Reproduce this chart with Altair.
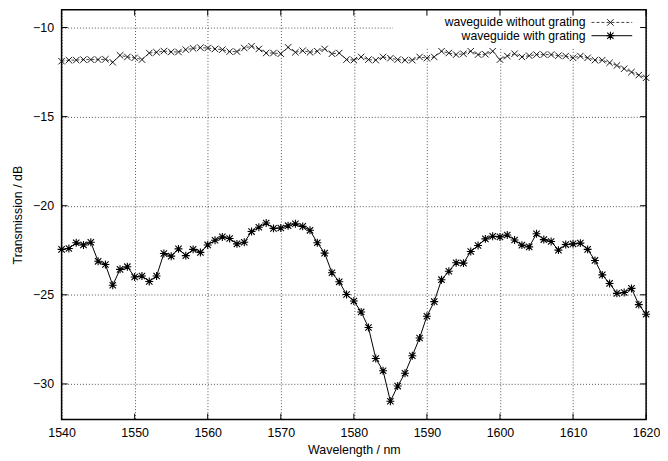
import altair as alt
import pandas as pd

wavelength = list(range(1540, 1621))

without_grating = [
    -11.89, -11.83, -11.83, -11.80, -11.80, -11.80, -11.78, -11.95, -11.56, -11.65,
    -11.70, -11.80, -11.43, -11.39, -11.32, -11.37, -11.37, -11.24, -11.17, -11.13,
    -11.15, -11.20, -11.24, -11.35, -11.35, -11.15, -11.05, -11.20, -11.43, -11.43,
    -11.47, -11.11, -11.39, -11.30, -11.39, -11.33, -11.20, -11.47, -11.43, -11.80,
    -11.83, -11.65, -11.80, -11.83, -11.65, -11.72, -11.80, -11.83, -11.83, -11.65,
    -11.72, -11.65, -11.33, -11.43, -11.52, -11.47, -11.33, -11.52, -11.50, -11.33,
    -11.80, -11.60, -11.47, -11.65, -11.58, -11.52, -11.52, -11.52, -11.58, -11.60,
    -11.70, -11.60, -11.70, -11.83, -11.83, -11.98, -12.13, -12.31, -12.50, -12.67,
    -12.82,
]

with_grating = [
    -22.45, -22.40, -22.08, -22.20, -22.05, -23.12, -23.30, -24.46, -23.57, -23.42,
    -24.00, -23.94, -24.25, -23.94, -22.68, -22.83, -22.42, -22.80, -22.45, -22.62,
    -22.20, -21.94, -21.75, -21.84, -22.14, -22.05, -21.45, -21.21, -20.97, -21.27,
    -21.25, -21.12, -21.01, -21.16, -21.38, -22.08, -22.66, -23.76, -24.27, -24.98,
    -25.35, -25.96, -26.83, -28.57, -29.26, -30.97, -30.12, -29.40, -28.42, -27.42,
    -26.20, -25.38, -24.15, -23.68, -23.20, -23.22, -22.57, -22.23, -21.86, -21.71,
    -21.75, -21.64, -21.92, -22.21, -22.31, -21.57, -21.90, -22.01, -22.49, -22.18,
    -22.14, -22.10, -22.45, -23.07, -23.88, -24.36, -24.92, -24.87, -24.64, -25.55,
    -26.09,
]

x_ticks = [1540, 1550, 1560, 1570, 1580, 1590, 1600, 1610, 1620]
y_ticks = [-30, -25, -20, -15, -10]
legend_labels = ["waveguide without grating", "waveguide with grating"]

W, H = 589, 413
FONT = "Liberation Sans"
X_PATH = "M-1,-1L1,1M-1,1L1,-1"
STAR_PATH = "M-0.8,-0.8L0.8,0.8M-0.8,0.8L0.8,-0.8M0,-1L0,1M-1,0L1,0"

df = pd.DataFrame({"wl": wavelength, "without": without_grating, "with": with_grating})
xt = pd.DataFrame({"wl": x_ticks})
yt = pd.DataFrame({"without": y_ticks})
one = pd.DataFrame({"k": [0]})

xs = alt.Scale(domain=[1540, 1620], nice=False, zero=False)
ys = alt.Scale(domain=[-32, -9], nice=False, zero=False)

xaxis = alt.Axis(values=x_ticks, title="Wavelength / nm", grid=True, gridDash=[1, 2],
                 gridColor="#555", gridWidth=1, ticks=False, domain=False,
                 labelFlush=False, labelOverlap=False,
                 labelPadding=7, labelFontSize=12.5, labelFont=FONT, labelColor="black",
                 titleFont=FONT, titleFontSize=12.5, titleFontWeight="normal",
                 titleColor="black", titleY=30, titleBaseline="middle", format="d")
yaxis = alt.Axis(values=y_ticks, title="Transmission / dB", grid=True, gridDash=[1, 2],
                 gridColor="#555", gridWidth=1, ticks=False, domain=False,
                 labelFlush=False, labelOverlap=False,
                 labelPadding=8, labelFontSize=12.5, labelFont=FONT, labelColor="black",
                 titleFont=FONT, titleFontSize=12.5, titleFontWeight="normal",
                 titleColor="black", titleX=-44, titleY=H / 2, titleBaseline="middle",
                 titleAngle=270)

X = alt.X("wl:Q", scale=xs, axis=xaxis)
Y_without = alt.Y("without:Q", scale=ys, axis=yaxis)
Y_with = alt.Y("with:Q", scale=ys, axis=yaxis)

base = alt.Chart(df)

legend_box = alt.Chart(one).mark_rect(fill="white", stroke=None).encode(
    x=alt.value(334), x2=alt.value(W), y=alt.value(0), y2=alt.value(38)
)

line_without = base.mark_line(color="#444", strokeWidth=1, strokeDash=[3, 2]).encode(
    x=X, y=Y_without
)
pts_without = base.mark_point(shape=X_PATH, filled=False, color="black", size=42,
                              strokeWidth=0.9, opacity=1).encode(x=X, y=Y_without)
line_with = base.mark_line(color="black", strokeWidth=1).encode(x=X, y=Y_with)
pts_with = base.mark_point(shape=STAR_PATH, filled=False, color="black", size=64,
                           strokeWidth=1.1, opacity=1).encode(x=X, y=Y_with)

tick_style = dict(color="black", strokeWidth=1)
xt_top = alt.Chart(xt).mark_rule(**tick_style).encode(
    x=X, y=alt.value(0), y2=alt.value(6))
xt_bot = alt.Chart(xt).mark_rule(**tick_style).encode(
    x=X, y=alt.value(H - 6), y2=alt.value(H))
yt_left = alt.Chart(yt).mark_rule(**tick_style).encode(
    y=Y_without, x=alt.value(0), x2=alt.value(6))
yt_right = alt.Chart(yt).mark_rule(**tick_style).encode(
    y=Y_without, x=alt.value(W - 6), x2=alt.value(W))

frame = alt.Chart(one).mark_rect(fill=None, stroke="black", strokeWidth=1.5).encode(
    x=alt.value(0), x2=alt.value(W), y=alt.value(0), y2=alt.value(H))

ly1, ly2 = 12.8, 26.2
leg_text1 = alt.Chart(one).mark_text(text=legend_labels[0], align="right", baseline="middle",
                                     font=FONT, fontSize=12.3, color="black").encode(
    x=alt.value(528), y=alt.value(ly1))
leg_text2 = alt.Chart(one).mark_text(text=legend_labels[1], align="right", baseline="middle",
                                     font=FONT, fontSize=12.3, color="black").encode(
    x=alt.value(528), y=alt.value(ly2))
leg_line1 = alt.Chart(one).mark_rule(color="#444", strokeWidth=1, strokeDash=[3, 2]).encode(
    x=alt.value(534), x2=alt.value(575), y=alt.value(ly1))
leg_line2 = alt.Chart(one).mark_rule(color="black", strokeWidth=1).encode(
    x=alt.value(534), x2=alt.value(575), y=alt.value(ly2))
leg_pt1 = alt.Chart(one).mark_point(shape=X_PATH, filled=False, color="black", size=42,
                                    strokeWidth=0.9, opacity=1).encode(
    x=alt.value(553), y=alt.value(ly1))
leg_pt2 = alt.Chart(one).mark_point(shape=STAR_PATH, filled=False, color="black", size=64,
                                    strokeWidth=1.1, opacity=1).encode(
    x=alt.value(553), y=alt.value(ly2))

chart = alt.layer(
    legend_box, line_without, pts_without, line_with, pts_with,
    xt_top, xt_bot, yt_left, yt_right, frame,
    leg_line1, leg_line2, leg_pt1, leg_pt2, leg_text1, leg_text2,
).properties(
    width=W, height=H,
    autosize=alt.AutoSizeParams(type="none"),
    padding={"left": 54, "top": 0, "right": 14, "bottom": 36},
    background="white",
).configure_view(stroke=None)

chart.save("out.html", embed_options={"renderer": "svg", "actions": False})
